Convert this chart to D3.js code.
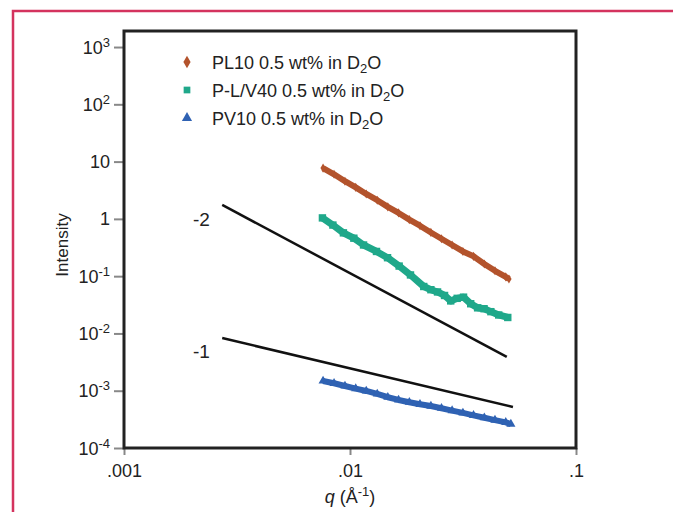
<!DOCTYPE html>
<html>
<head>
<meta charset="utf-8">
<script src="https://cdn.jsdelivr.net/npm/d3@7/dist/d3.min.js"></script>
<style>
  body { margin: 0; background: #fff; }
  text { font-family: "Liberation Sans", Arial, sans-serif; fill: #222; }
</style>
</head>
<body>
<svg id="chart" width="673" height="512" viewBox="0 0 673 512"></svg>
<script>
// values
const plQ = [0.0076, 0.0085, 0.0095, 0.0106, 0.0118, 0.0132, 0.0147, 0.0164, 0.0183, 0.0204, 0.0228, 0.0254, 0.0283, 0.0316, 0.0352, 0.0393, 0.0438, 0.0489, 0.0505];
const plI = [7.7, 6.0, 4.55, 3.55, 2.72, 2.12, 1.62, 1.27, 0.97, 0.76, 0.58, 0.45, 0.35, 0.27, 0.222, 0.163, 0.124, 0.097, 0.089];

const plvQ = [0.00755, 0.0084, 0.00935, 0.0104, 0.01148, 0.0131, 0.01466, 0.0165, 0.01852, 0.0212, 0.0228, 0.0244, 0.0262, 0.0279, 0.0298, 0.0318, 0.0342, 0.0367, 0.0392, 0.042, 0.0455, 0.0499];
const plvI = [1.04, 0.78, 0.57, 0.46, 0.35, 0.27, 0.21, 0.15, 0.105, 0.066, 0.058, 0.053, 0.046, 0.037, 0.041, 0.043, 0.033, 0.028, 0.027, 0.024, 0.021, 0.019];

const pvQ = [0.0076, 0.0085, 0.0095, 0.0106, 0.0118, 0.0132, 0.0147, 0.0164, 0.0183, 0.0204, 0.0228, 0.0254, 0.0283, 0.0316, 0.0352, 0.0393, 0.0438, 0.0489, 0.0515];
const pvI = [1.48e-3, 1.35e-3, 1.21e-3, 1.09e-3, 9.9e-4, 8.8e-4, 7.7e-4, 6.9e-4, 6.3e-4, 5.8e-4, 5.4e-4, 4.95e-4, 4.5e-4, 4.1e-4, 3.72e-4, 3.38e-4, 3.07e-4, 2.8e-4, 2.62e-4];

// guide slopes
const slope2Q = [0.00272, 0.0494];
const slope2I = [1.75, 0.0039];
const slope1Q = [0.00272, 0.0526];
const slope1I = [0.0083, 0.00052];

const xTicks = [0.001, 0.01, 0.1];
const xTickLabels = [".001", ".01", ".1"];
const yTicks = [1e-4, 1e-3, 1e-2, 1e-1, 1, 10, 100, 1000];
const yTickLabels = [["10", "-4"], ["10", "-3"], ["10", "-2"], ["10", "-1"], ["1", ""], ["10", ""], ["10", "2"], ["10", "3"]];

const legendNames = ["PL10 0.5 wt% in D", "P-L/V40 0.5 wt% in D", "PV10 0.5 wt% in D"];
const colors = ["#b3532c", "#1fa88a", "#2f62b3"];

const svg = d3.select("#chart");
const plotLeft = 124, plotRight = 576, plotTop = 31, plotBottom = 448;

const x = d3.scaleLog().domain([0.001, 0.1]).range([plotLeft, plotRight]);
const y = d3.scaleLog().domain([1e-4, Math.pow(10, 3.28)]).range([plotBottom, plotTop]);

// red frame
svg.append("rect")
  .attr("x", 13).attr("y", 11)
  .attr("width", 700).attr("height", 520)
  .attr("fill", "none")
  .attr("stroke", "#d4335e")
  .attr("stroke-width", 2.5);

// axes
const yAxis = svg.append("g")
  .attr("transform", `translate(${plotLeft},0)`)
  .call(d3.axisLeft(y).tickValues(yTicks).tickSize(10).tickFormat(""));
yAxis.select(".domain").remove();
yAxis.selectAll("line").attr("stroke", "#888").attr("stroke-width", 2);

const yLabels = yAxis.selectAll(".tick")
  .append("text")
  .attr("x", -14)
  .attr("y", 6)
  .attr("text-anchor", "end")
  .style("font-size", "18px");
yLabels.each(function (d, i) {
  const [base, exp] = yTickLabels[i];
  const t = d3.select(this);
  t.append("tspan").text(base);
  if (exp) {
    t.append("tspan").attr("dy", -7).style("font-size", "13px").text(exp);
  }
});

const xAxis = svg.append("g")
  .attr("transform", `translate(0,${plotBottom})`)
  .call(d3.axisBottom(x).tickValues(xTicks).tickSize(7).tickFormat((d, i) => xTickLabels[i]));
xAxis.select(".domain").remove();
xAxis.selectAll("line").attr("stroke", "#888").attr("stroke-width", 2);
xAxis.selectAll("text")
  .attr("y", 29)
  .attr("dy", 0)
  .style("font-size", "18px")
  .attr("fill", "#222");

// plot box
svg.append("rect")
  .attr("x", plotLeft).attr("y", plotTop)
  .attr("width", plotRight - plotLeft).attr("height", plotBottom - plotTop)
  .attr("fill", "none")
  .attr("stroke", "#222")
  .attr("stroke-width", 3);

// axis titles
const xTitle = svg.append("text")
  .attr("x", 350).attr("y", 503)
  .attr("text-anchor", "middle")
  .style("font-size", "18px");
xTitle.append("tspan").style("font-style", "italic").text("q");
xTitle.append("tspan").text(" (Å");
xTitle.append("tspan").attr("dy", -7).style("font-size", "13px").text("-1");
xTitle.append("tspan").attr("dy", 7).text(")");

svg.append("text")
  .attr("transform", "translate(68,245) rotate(-90)")
  .attr("text-anchor", "middle")
  .style("font-size", "17px")
  .text("Intensity");

// guide lines
const line = d3.line().x((d) => x(d[0])).y((d) => y(d[1]));
[[slope2Q, slope2I], [slope1Q, slope1I]].forEach(([qs, is]) => {
  svg.append("path")
    .datum(qs.map((q, i) => [q, is[i]]))
    .attr("d", line)
    .attr("fill", "none")
    .attr("stroke", "#111")
    .attr("stroke-width", 2.5);
});
svg.append("text").attr("x", 193).attr("y", 226).style("font-size", "19px").text("-2");
svg.append("text").attr("x", 193).attr("y", 358).style("font-size", "19px").text("-1");

// data series
const series = [
  { q: plQ, i: plI, color: colors[0], symbol: d3.symbolDiamond, size: 24, width: 6 },
  { q: plvQ, i: plvI, color: colors[1], symbol: d3.symbolSquare, size: 55, width: 7 },
  { q: pvQ, i: pvI, color: colors[2], symbol: d3.symbolTriangle, size: 36, width: 6 }
];

series.forEach((s) => {
  const pts = s.q.map((q, k) => [q, s.i[k]]);
  svg.append("path")
    .datum(pts)
    .attr("d", line)
    .attr("fill", "none")
    .attr("stroke", s.color)
    .attr("stroke-width", s.width)
    .attr("stroke-linejoin", "round");
  svg.append("g")
    .selectAll("path")
    .data(pts)
    .join("path")
    .attr("transform", (d) => `translate(${x(d[0])},${y(d[1])})`)
    .attr("d", d3.symbol().type(s.symbol).size(s.size))
    .attr("fill", s.color);
});

// legend
const legend = svg.append("g").attr("transform", "translate(187,62)");
const legendSymbols = [d3.symbolDiamond, d3.symbolSquare, d3.symbolTriangle];
legendNames.forEach((name, k) => {
  const row = legend.append("g").attr("transform", `translate(0,${k * 28})`);
  row.append("path")
    .attr("d", d3.symbol().type(legendSymbols[k]).size(45))
    .attr("fill", colors[k]);
  const t = row.append("text")
    .attr("x", 25)
    .attr("y", 7)
    .style("font-size", "18px");
  t.append("tspan").text(name);
  t.append("tspan").attr("dy", 4).style("font-size", "13px").text("2");
  t.append("tspan").attr("dy", -4).text("O");
});
</script>
</body>
</html>
